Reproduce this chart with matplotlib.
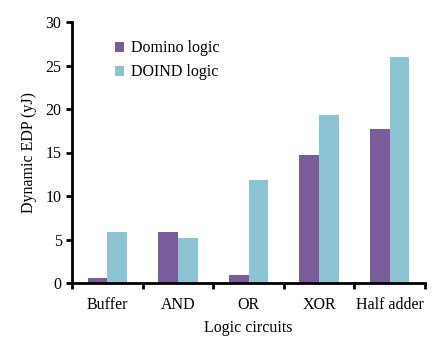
import numpy as np
import matplotlib.pyplot as plt

plt.rcParams['font.family'] = ['Liberation Serif', 'DejaVu Serif']

circuits = ['Buffer', 'AND', 'OR', 'XOR', 'Half adder']
domino = [0.55, 5.85, 0.9, 14.75, 17.7]
doind = [5.85, 5.2, 11.8, 19.35, 25.95]

x = np.arange(len(circuits))
w = 0.28

fig = plt.figure(figsize=(4.36, 3.40), dpi=100)
ax = fig.add_axes([72 / 436, 57 / 340, 353 / 436, 261 / 340])

ax.bar(x - w / 2, domino, w, color='#7b5c9b', label='Domino logic')
ax.bar(x + w / 2, doind, w, color='#8cc4d4', label='DOIND logic')

ax.set_xlim(-0.5, len(circuits) - 0.5)
ax.set_ylim(0, 30)
ax.set_yticks(range(0, 31, 5))
ax.set_xticks(x)
ax.set_xticklabels(circuits, fontsize=11.5)
ax.tick_params(axis='x', length=0, pad=10)
ax.set_xticks(np.arange(len(circuits) + 1) - 0.5, minor=True)
ax.tick_params(axis='x', which='minor', length=4, width=2, direction='out')
ax.tick_params(axis='y', labelsize=11.5, length=4, width=2, direction='out')

for s in ['top', 'right']:
    ax.spines[s].set_visible(False)
for s in ['left', 'bottom']:
    ax.spines[s].set_linewidth(2)

ax.set_xlabel('Logic circuits', fontsize=11.5, labelpad=5)
ax.set_ylabel('Dynamic EDP (yJ)', fontsize=11.5, labelpad=6)

ax.legend(loc='upper left', bbox_to_anchor=(0.08, 0.985), frameon=False,
          fontsize=11.5, handlelength=0.6, handleheight=0.6, handletextpad=0.4,
          labelspacing=0.5)

fig.savefig('out.png', dpi=100)
